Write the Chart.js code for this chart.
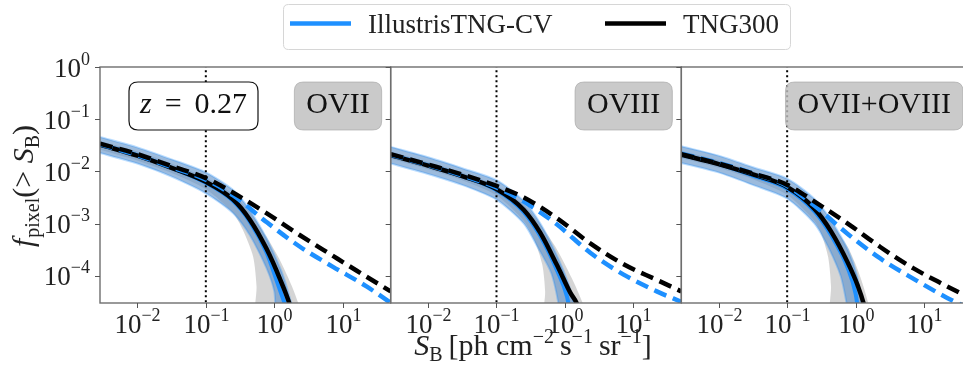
<!DOCTYPE html>
<html><head><meta charset="utf-8">
<script src="https://cdn.jsdelivr.net/npm/chart.js@4/dist/chart.umd.min.js"></script>
<style>
html,body{margin:0;padding:0;background:#fff;overflow:hidden;width:963px;height:365px;}
#wrap{position:absolute;left:0;top:0;width:985px;height:365px;}
canvas{display:block;}
</style></head><body>
<div id="wrap"><canvas id="c" width="985" height="365" style="width:985px;height:365px"></canvas></div>
<script>
// ---------------- data ----------------
const panelNames = ['OVII', 'OVIII', 'OVII+OVIII'];
const seriesNames = ['IllustrisTNG-CV', 'TNG300'];
const redshiftText = ['z', '=', '0.27'];
const xTickValues = [1e-2, 1e-1, 1e0, 1e1];
const yTickValues = [1e0, 1e-1, 1e-2, 1e-3, 1e-4];
const xLimits = [2.85e-3, 50];
const yLimits = [3e-5, 1];
const thresholdSB = 0.1;

// OVII panel  [S_B, f_pixel]
const ovii_tngSolid = [[2.85e-3,3.24e-2],[1e-2,2.0e-2],[3.16e-2,1.17e-2],[0.1,6.31e-3],[0.251,2.88e-3],[0.437,1.20e-3],[0.767,3.31e-4],[1.20,8.9e-5],[1.68,2.82e-5],[2.0,1.26e-5]];
const ovii_cvSolid = [[2.85e-3,3.31e-2],[1e-2,2.04e-2],[3.16e-2,1.17e-2],[0.1,6.03e-3],[0.251,2.69e-3],[0.437,1.10e-3],[0.767,2.82e-4],[1.12,7.08e-5],[1.48,2.51e-5],[1.78,1.26e-5]];
const ovii_cvBandHi = [[2.85e-3,4.57e-2],[1e-2,2.88e-2],[3.16e-2,1.70e-2],[0.1,9.55e-3],[0.251,4.37e-3],[0.437,1.82e-3],[0.767,5.25e-4],[1.26,1.26e-4],[1.66,3.98e-5],[2.0,1.26e-5]];
const ovii_cvBandLo = [[2.85e-3,2.24e-2],[1e-2,1.41e-2],[3.16e-2,7.94e-3],[0.1,3.80e-3],[0.251,1.58e-3],[0.437,6.03e-4],[0.767,1.41e-4],[1.0,5.01e-5],[1.12,1.26e-5]];
const ovii_tngBandHi = [[2.85e-3,3.80e-2],[1e-2,2.40e-2],[3.16e-2,1.41e-2],[0.1,7.59e-3],[0.251,3.63e-3],[0.437,1.66e-3],[0.767,5.62e-4],[1.26,1.78e-4],[2.0,4.47e-5],[2.51,1.26e-5]];
const ovii_tngBandLo = [[2.85e-3,2.63e-2],[1e-2,1.62e-2],[3.16e-2,9.33e-3],[0.1,4.57e-3],[0.251,1.58e-3],[0.347,7.59e-4],[0.490,2.34e-4],[0.550,6.31e-5],[0.556,1.26e-5]];
const ovii_tngDashed = [[2.85e-3,3.39e-2],[1e-2,2.14e-2],[3.16e-2,1.26e-2],[0.1,7.41e-3],[0.251,3.89e-3],[0.767,1.58e-3],[2.34,6.03e-4],[7.18,2.40e-4],[15.8,1.26e-4],[50,5.01e-5]];
const ovii_cvDashed = [[2.85e-3,3.31e-2],[1e-2,2.04e-2],[3.16e-2,1.20e-2],[0.1,6.92e-3],[0.251,3.47e-3],[0.767,1.07e-3],[2.34,3.63e-4],[7.18,1.48e-4],[21.9,6.31e-5],[50,3.02e-5]];

// OVIII panel
const oviii_tngSolid = [[2.85e-3,2.04e-2],[1e-2,1.29e-2],[3.16e-2,8.13e-3],[0.1,4.57e-3],[0.251,1.82e-3],[0.437,6.61e-4],[0.767,1.58e-4],[1.20,4.68e-5],[1.51,2.82e-5],[1.82,1.26e-5]];
const oviii_cvSolid = [[2.85e-3,2.09e-2],[1e-2,1.32e-2],[3.16e-2,8.13e-3],[0.1,4.37e-3],[0.251,1.66e-3],[0.437,5.75e-4],[0.767,1.26e-4],[1.07,3.98e-5],[1.26,1.26e-5]];
const oviii_cvBandHi = [[2.85e-3,2.95e-2],[1e-2,1.86e-2],[3.16e-2,1.15e-2],[0.1,6.76e-3],[0.251,2.69e-3],[0.437,1.0e-3],[0.767,2.40e-4],[1.12,7.08e-5],[1.38,2.51e-5],[1.51,1.26e-5]];
const oviii_cvBandLo = [[2.85e-3,1.41e-2],[1e-2,8.91e-3],[3.16e-2,5.50e-3],[0.1,2.88e-3],[0.251,1.0e-3],[0.398,3.55e-4],[0.631,1.12e-4],[0.794,3.16e-5],[0.851,1.26e-5]];
const oviii_tngBandHi = [[2.85e-3,2.40e-2],[1e-2,1.51e-2],[3.16e-2,9.55e-3],[0.1,5.37e-3],[0.251,2.29e-3],[0.437,9.55e-4],[0.767,3.16e-4],[1.26,8.91e-5],[1.91,2.51e-5],[2.14,1.26e-5]];
const oviii_tngBandLo = [[2.85e-3,1.74e-2],[1e-2,1.10e-2],[3.16e-2,6.76e-3],[0.1,3.47e-3],[0.251,1.12e-3],[0.355,5.01e-4],[0.468,1.58e-4],[0.513,5.01e-5],[0.519,1.26e-5]];
const oviii_tngDashed = [[2.85e-3,2.14e-2],[1e-2,1.35e-2],[3.16e-2,8.71e-3],[0.1,5.25e-3],[0.251,3.16e-3],[0.767,1.26e-3],[2.34,4.17e-4],[7.18,1.66e-4],[21.9,8.32e-5],[50,5.01e-5]];
const oviii_cvDashed = [[2.85e-3,2.09e-2],[1e-2,1.32e-2],[3.16e-2,8.32e-3],[0.1,4.90e-3],[0.251,2.63e-3],[0.767,9.55e-4],[2.34,2.75e-4],[7.18,1.05e-4],[21.9,5.01e-5],[50,3.16e-5]];

// OVII+OVIII panel
const both_tngSolid = [[2.85e-3,2.09e-2],[1e-2,1.38e-2],[3.16e-2,8.71e-3],[0.1,5.01e-3],[0.251,1.91e-3],[0.437,7.08e-4],[0.767,1.78e-4],[1.08,6.31e-5],[1.32,2.82e-5],[1.51,1.26e-5]];
const both_cvSolid = [[2.85e-3,2.09e-2],[1e-2,1.38e-2],[3.16e-2,8.32e-3],[0.1,4.68e-3],[0.251,1.70e-3],[0.437,6.03e-4],[0.767,1.41e-4],[1.0,4.47e-5],[1.15,1.26e-5]];
const both_cvBandHi = [[2.85e-3,3.02e-2],[1e-2,2.0e-2],[3.16e-2,1.20e-2],[0.1,7.24e-3],[0.251,2.95e-3],[0.437,1.15e-3],[0.767,3.16e-4],[1.05,1.0e-4],[1.23,2.82e-5],[1.32,1.26e-5]];
const both_cvBandLo = [[2.85e-3,1.45e-2],[1e-2,9.55e-3],[3.16e-2,5.50e-3],[0.1,3.02e-3],[0.251,1.0e-3],[0.398,3.55e-4],[0.603,1.0e-4],[0.741,2.82e-5],[0.794,1.26e-5]];
const both_tngBandHi = [[2.85e-3,2.45e-2],[1e-2,1.62e-2],[3.16e-2,1.0e-2],[0.1,5.75e-3],[0.251,2.40e-3],[0.437,1.0e-3],[0.767,3.55e-4],[1.12,1.12e-4],[1.51,3.16e-5],[1.70,1.26e-5]];
const both_tngBandLo = [[2.85e-3,1.78e-2],[1e-2,1.17e-2],[3.16e-2,7.08e-3],[0.1,3.55e-3],[0.251,1.12e-3],[0.316,6.31e-4],[0.398,2.24e-4],[0.437,6.31e-5],[0.442,1.26e-5]];
const both_tngDashed = [[2.85e-3,2.14e-2],[1e-2,1.41e-2],[3.16e-2,9.12e-3],[0.1,5.50e-3],[0.251,2.63e-3],[0.767,1.0e-3],[2.29,3.55e-4],[7.02,1.38e-4],[21.4,6.31e-5],[50,3.55e-5]];
const both_cvDashed = [[2.85e-3,2.19e-2],[1e-2,1.45e-2],[3.16e-2,9.12e-3],[0.1,5.25e-3],[0.251,2.19e-3],[0.767,6.31e-4],[2.29,2.14e-4],[7.02,8.71e-5],[21.4,3.80e-5],[50,2.24e-5]];

// ---------------- styling ----------------
const SERIF = '"Liberation Serif", "DejaVu Serif", serif';
const BLUE = '#1E90FF';
const BLUE_BAND = 'rgba(95,145,200,0.62)';
const GRAY_BAND = 'rgba(150,150,150,0.40)';

const panelData = [
  {name: panelNames[0], tngSolid: ovii_tngSolid, cvSolid: ovii_cvSolid, cvHi: ovii_cvBandHi, cvLo: ovii_cvBandLo, tngHi: ovii_tngBandHi, tngLo: ovii_tngBandLo, tngDash: ovii_tngDashed, cvDash: ovii_cvDashed},
  {name: panelNames[1], tngSolid: oviii_tngSolid, cvSolid: oviii_cvSolid, cvHi: oviii_cvBandHi, cvLo: oviii_cvBandLo, tngHi: oviii_tngBandHi, tngLo: oviii_tngBandLo, tngDash: oviii_tngDashed, cvDash: oviii_cvDashed},
  {name: panelNames[2], tngSolid: both_tngSolid, cvSolid: both_cvSolid, cvHi: both_cvBandHi, cvLo: both_cvBandLo, tngHi: both_tngBandHi, tngLo: both_tngBandLo, tngDash: both_tngDashed, cvDash: both_cvDashed}
];

const pts = a => a.map(p => ({x: p[0], y: p[1]}));
const band = (hi, lo) => pts(hi.concat(lo.slice().reverse()));

const datasets = [];
panelData.forEach((p, i) => {
  const xid = 'x' + i;
  const common = {xAxisID: xid, yAxisID: 'y', pointRadius: 0, pointHoverRadius: 0};
  datasets.push(Object.assign({label: seriesNames[1] + ' range', data: band(p.tngHi, p.tngLo), fill: 'shape', backgroundColor: GRAY_BAND, borderColor: 'rgba(0,0,0,0)', borderWidth: 0.01, tension: 0.25, order: 20}, common));
  datasets.push(Object.assign({label: seriesNames[0] + ' range', data: band(p.cvHi, p.cvLo), fill: 'shape', backgroundColor: BLUE_BAND, borderColor: 'rgba(30,144,255,0.3)', borderWidth: 2, tension: 0.25, order: 19}, common));
  datasets.push(Object.assign({label: 'threshold', data: [{x: thresholdSB, y: 1e-7}, {x: thresholdSB, y: 10}], borderColor: '#000', borderWidth: 2, borderDash: [2, 3], fill: false, order: 15}, common));
  datasets.push(Object.assign({label: seriesNames[0], data: pts(p.cvSolid), borderColor: BLUE, borderWidth: 4, fill: false, cubicInterpolationMode: 'monotone', order: 12}, common));
  datasets.push(Object.assign({label: seriesNames[1], data: pts(p.tngSolid), borderColor: '#000', borderWidth: 4.5, fill: false, cubicInterpolationMode: 'monotone', order: 11}, common));
  datasets.push(Object.assign({label: seriesNames[0] + ' dashed', data: pts(p.cvDash), borderColor: BLUE, borderWidth: 4.5, borderDash: [13, 7], borderCapStyle: 'butt', fill: false, cubicInterpolationMode: 'monotone', order: 10}, common));
  datasets.push(Object.assign({label: seriesNames[1] + ' dashed', data: pts(p.tngDash), borderColor: '#000', borderWidth: 4.5, borderDash: [13, 7], borderCapStyle: 'butt', fill: false, cubicInterpolationMode: 'monotone', order: 9}, common));
});

const scales = {y: {type: 'logarithmic', position: 'left', min: yLimits[0], max: yLimits[1], display: false}};
[0, 1, 2].forEach(i => {
  scales['x' + i] = {type: 'logarithmic', position: 'bottom', stack: 'panels', stackWeight: 1, min: xLimits[0], max: xLimits[1], display: false};
});

// ---------------- text helpers ----------------
function richWidth(ctx, segs) {
  let w = 0;
  segs.forEach(s => { ctx.font = s.f; w += ctx.measureText(s.t).width + (s.gap || 0); });
  return w;
}
function drawRich(ctx, segs, x, y, align) {
  const w = richWidth(ctx, segs);
  let cx = align === 'center' ? x - w / 2 : (align === 'right' ? x - w : x);
  ctx.textAlign = 'left';
  ctx.textBaseline = 'alphabetic';
  segs.forEach(s => {
    ctx.font = s.f;
    ctx.fillText(s.t, cx, y + (s.dy || 0));
    cx += ctx.measureText(s.t).width + (s.gap || 0);
  });
}
const F = (size, style) => (style || '') + ' ' + size + 'px ' + SERIF;
function powSegs(v) {
  const e = Math.round(Math.log10(v));
  return [{t: '10', f: F(27)}, {t: (e < 0 ? '\u2212' : '') + Math.abs(e), f: F(18), dy: -12}];
}
function roundRect(ctx, x, y, w, h, r) {
  ctx.beginPath();
  ctx.moveTo(x + r, y);
  ctx.lineTo(x + w - r, y); ctx.quadraticCurveTo(x + w, y, x + w, y + r);
  ctx.lineTo(x + w, y + h - r); ctx.quadraticCurveTo(x + w, y + h, x + w - r, y + h);
  ctx.lineTo(x + r, y + h); ctx.quadraticCurveTo(x, y + h, x, y + h - r);
  ctx.lineTo(x, y + r); ctx.quadraticCurveTo(x, y, x + r, y);
  ctx.closePath();
}

const decor = {
  id: 'decor',
  beforeDraw(chart) {
    const ctx = chart.ctx;
    ctx.save(); ctx.fillStyle = '#fff'; ctx.fillRect(0, 0, chart.width, chart.height); ctx.restore();
  },
  afterDraw(chart) {
    const ctx = chart.ctx;
    const ys = chart.scales.y;
    ctx.save();
    ctx.fillStyle = '#000';
    [0, 1, 2].forEach(i => {
      const xs = chart.scales['x' + i];
      ctx.strokeStyle = '#6e6e6e'; ctx.lineWidth = 1.4;
      ctx.strokeRect(xs.left, ys.top, xs.right - xs.left, ys.bottom - ys.top);
      ctx.strokeStyle = '#555'; ctx.lineWidth = 1;
      xTickValues.forEach(v => {
        const px = Math.round(xs.getPixelForValue(v)) + 0.5;
        ctx.beginPath(); ctx.moveTo(px, ys.bottom); ctx.lineTo(px, ys.bottom + 5); ctx.stroke();
        ctx.fillStyle = '#222';
        drawRich(ctx, powSegs(v), px, ys.bottom + 30, 'center');
      });
      yTickValues.forEach(v => {
        const py = Math.round(ys.getPixelForValue(v)) + 0.5;
        ctx.beginPath(); ctx.moveTo(xs.left, py); ctx.lineTo(xs.left - 5, py); ctx.stroke();
      });
    });
    const x0 = chart.scales.x0;
    ctx.fillStyle = '#222';
    yTickValues.forEach(v => {
      const py = ys.getPixelForValue(v);
      drawRich(ctx, powSegs(v), x0.left - 10, py + 9.5, 'right');
    });
    panelData.forEach((p, i) => {
      const xs = chart.scales['x' + i];
      ctx.font = F(30);
      const tw = ctx.measureText(p.name).width;
      const bw = tw + 24, bh = 48;
      const bx = xs.right - 9 - bw, by = ys.top + 15;
      roundRect(ctx, bx, by, bw, bh, 9);
      ctx.fillStyle = 'rgba(190,190,190,0.82)'; ctx.fill();
      ctx.strokeStyle = 'rgba(160,160,160,0.6)'; ctx.lineWidth = 1; ctx.stroke();
      ctx.fillStyle = '#111';
      drawRich(ctx, [{t: p.name, f: F(30)}], bx + bw / 2, by + 31, 'center');
    });
    {
      const segs = [{t: redshiftText[0], f: F(30, 'italic'), gap: 13}, {t: redshiftText[1], f: F(30), gap: 13}, {t: redshiftText[2], f: F(30)}];
      const bw = 129, bh = 48;
      const bx = x0.left + 29, by = ys.top + 15;
      roundRect(ctx, bx, by, bw, bh, 9);
      ctx.fillStyle = '#fff'; ctx.fill();
      ctx.strokeStyle = '#111'; ctx.lineWidth = 1.2; ctx.stroke();
      ctx.fillStyle = '#111';
      drawRich(ctx, segs, bx + bw / 2, by + 31, 'center');
    }
    {
      const lx = 283, ly = 4, lw = 507, lh = 45;
      roundRect(ctx, lx + 0.5, ly + 0.5, lw, lh, 5);
      ctx.fillStyle = 'rgba(255,255,255,0.9)'; ctx.fill();
      ctx.strokeStyle = '#d6d6d6'; ctx.lineWidth = 1; ctx.stroke();
      const items = [{c: BLUE, x: 290, t: seriesNames[0]}, {c: '#000', x: 605, t: seriesNames[1]}];
      items.forEach(it => {
        ctx.strokeStyle = it.c; ctx.lineWidth = 4.5;
        ctx.beginPath(); ctx.moveTo(it.x, 23.5); ctx.lineTo(it.x + 61, 23.5); ctx.stroke();
        ctx.fillStyle = '#222';
        drawRich(ctx, [{t: it.t, f: F(27)}], it.x + 78, 33, 'left');
      });
    }
    ctx.fillStyle = '#222';
    drawRich(ctx, [
      {t: 'S', f: F(30, 'italic')}, {t: 'B', f: F(20), dy: 6, gap: 6},
      {t: '[ph cm', f: F(30)}, {t: '\u22122', f: F(20), dy: -12, gap: 6},
      {t: 's', f: F(30)}, {t: '\u22121', f: F(20), dy: -12, gap: 6},
      {t: 'sr', f: F(30)}, {t: '\u22121', f: F(20), dy: -12},
      {t: ']', f: F(30)}
    ], 533, 355, 'center');
    ctx.save();
    ctx.translate(33, 186);
    ctx.rotate(-Math.PI / 2);
    drawRich(ctx, [
      {t: 'f', f: F(30, 'italic'), gap: 1}, {t: 'pixel', f: F(20), dy: 6},
      {t: '(> ', f: F(30)}, {t: 'S', f: F(30, 'italic')}, {t: 'B', f: F(20), dy: 6}, {t: ')', f: F(30)}
    ], 0, 0, 'center');
    ctx.restore();
    ctx.restore();
  }
};

new Chart(document.getElementById('c'), {
  type: 'line',
  data: {datasets},
  options: {
    responsive: false,
    animation: false,
    devicePixelRatio: 1,
    parsing: true,
    layout: {padding: {left: 100, top: 67, right: 13, bottom: 62}},
    scales,
    events: [],
    plugins: {legend: {display: false}, tooltip: {enabled: false}}
  },
  plugins: [decor]
});
</script>
</body></html>
